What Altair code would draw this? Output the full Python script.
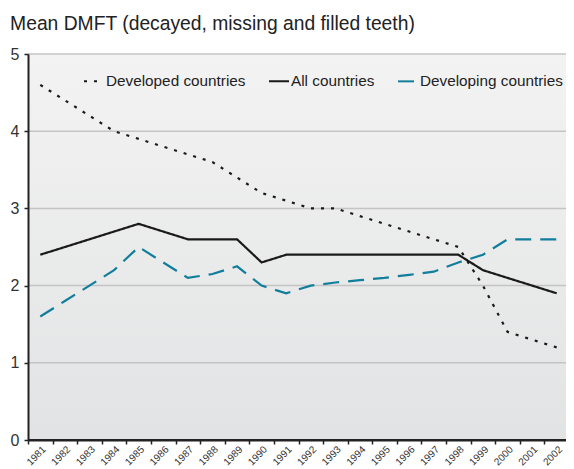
import altair as alt
import pandas as pd

years = list(range(1981, 2003))
developed = [4.6, 4.4, 4.2, 4.0, 3.9, 3.8, 3.7, 3.6, 3.4, 3.2, 3.1, 3.0, 3.0, 2.9, 2.8, 2.7, 2.6, 2.5, 2.0, 1.4, 1.3, 1.2]
all_countries = [2.4, 2.5, 2.6, 2.7, 2.8, 2.7, 2.6, 2.6, 2.6, 2.3, 2.4, 2.4, 2.4, 2.4, 2.4, 2.4, 2.4, 2.4, 2.2, 2.1, 2.0, 1.9]
developing = [1.6, 1.8, 2.0, 2.2, 2.5, 2.3, 2.1, 2.15, 2.25, 2.0, 1.9, 2.0, 2.04, 2.07, 2.1, 2.14, 2.18, 2.3, 2.4, 2.6, 2.6, 2.6]
series_names = ["Developed countries", "All countries", "Developing countries"]
y_ticks = [0, 1, 2, 3, 4, 5]
grid_values = [1, 2, 3, 4, 5]

W, H = 538, 386          # visible plot area
RANGE_W = 541            # band range for the 22 years
BG_W = 560               # background runs to the page edge
FONT = "Liberation Sans"

rows = []
for name, vals in zip(series_names, [developed, all_countries, developing]):
    for yr, v in zip(years, vals):
        rows.append({"year": yr, "value": v, "series": name})
df = pd.DataFrame(rows)

x_enc = alt.X(
    "year:O",
    scale=alt.Scale(type="band", paddingInner=0, paddingOuter=0, range=[0, RANGE_W]),
    bandPosition=0.5,
    axis=alt.Axis(
        title=None, labelAngle=-45, labelAlign="right", labelBaseline="top",
        tickBand="extent", labelFontSize=10, labelColor="#333", labelFont=FONT,
        domainColor="#222", domainWidth=2, tickColor="#222", tickSize=4,
        tickWidth=1.5, labelPadding=0, zindex=1,
    ),
)
y_scale = alt.Scale(domain=[0, 5], nice=False)

bg = alt.Chart(pd.DataFrame({"a": [0]})).mark_rect(
    color=alt.LinearGradient(
        gradient="linear",
        stops=[alt.GradientStop(color="#f3f3f3", offset=0),
               alt.GradientStop(color="#e2e3e4", offset=1)],
        x1=0, x2=0, y1=0, y2=1,
    )
).encode(x=alt.value(0), x2=alt.value(BG_W), y=alt.value(0), y2=alt.value(H))

grid = alt.Chart(pd.DataFrame({"v": grid_values})).mark_rule(
    color="#c4c4c4", strokeWidth=1.5
).encode(y=alt.Y("v:Q", scale=y_scale), x=alt.value(0), x2=alt.value(BG_W))

axis_line = alt.Chart(pd.DataFrame({"v": [0]})).mark_rule(
    color="#222", strokeWidth=2
).encode(y=alt.Y("v:Q", scale=y_scale), x=alt.value(0), x2=alt.value(BG_W))

legend = alt.Legend(
    title=None, orient="none", legendX=55, legendY=16, direction="horizontal",
    symbolType="stroke", symbolSize=400, symbolStrokeWidth=2,
    labelFontSize=15.3, labelFont=FONT, labelColor="#222", labelOffset=1,
    columnPadding=19, padding=0,
)

lines = alt.Chart(df).mark_line(strokeWidth=2.2, strokeCap="butt").encode(
    x=x_enc,
    y=alt.Y("value:Q", scale=y_scale,
            axis=alt.Axis(values=y_ticks, format="d", grid=False, title=None,
                          domainColor="#222", domainWidth=2, tickColor="#222",
                          tickSize=4, tickWidth=1.5, labelFontSize=16,
                          labelColor="#333", labelFont=FONT, labelPadding=5, zindex=1)),
    color=alt.Color(
        "series:N",
        scale=alt.Scale(domain=series_names, range=["#1a1a1a", "#1a1a1a", "#117e9b"]),
        legend=legend,
    ),
    strokeDash=alt.StrokeDash(
        "series:N",
        scale=alt.Scale(domain=series_names, range=[[3, 7], [1, 0], [16, 9]]),
        legend=legend,
    ),
    detail="series:N",
)

chart = alt.layer(bg, grid, axis_line, lines).properties(
    width=W, height=H,
    title=alt.TitleParams(
        "Mean DMFT (decayed, missing and filled teeth)", anchor="start",
        fontSize=19.3, fontWeight="normal", color="#222", font=FONT, offset=12,
    ),
    padding={"left": 20, "top": 46, "right": 0, "bottom": 27},
    autosize=alt.AutoSizeParams(type="none"),
).configure_view(stroke=None)

chart.save("out.html", embed_options={"renderer": "svg", "actions": False})
